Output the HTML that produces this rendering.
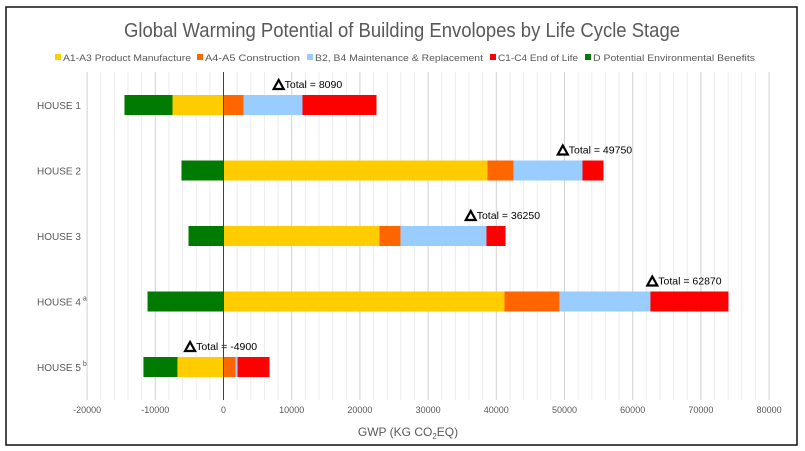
<!DOCTYPE html>
<html><head><meta charset="utf-8">
<style>
html,body{margin:0;padding:0;background:#fff;}
svg{display:block;font-family:"Liberation Sans",sans-serif;}
</style></head>
<body>
<svg id="chart" width="805" height="451" viewBox="0 0 805 451">
<rect x="6" y="7" width="791" height="438" fill="#fff" stroke="#111" stroke-width="1.5"/>
<text x="402" y="37" text-anchor="middle" font-size="20" fill="#595959" textLength="556" lengthAdjust="spacingAndGlyphs">Global Warming Potential of Building Envolopes by Life Cycle Stage</text>
<g id="grid"></g>
<g id="bars"></g>
<g id="ticks"></g>
<g id="legend"></g>
<text x="408" y="436" text-anchor="middle" font-size="12" fill="#595959">GWP (KG CO<tspan font-size="8" dy="3">2</tspan><tspan dy="-3">EQ)</tspan></text>
</svg>
<script>
const categories = ["HOUSE 1","HOUSE 2","HOUSE 3","HOUSE 4","HOUSE 5"];
const catSup = ["","","","a","b"];
const seriesNames = ["A1-A3 Product Manufacture","A4-A5 Construction","B2, B4 Maintenance & Replacement","C1-C4 End of Life","D Potential Environmental Benefits"];
const seriesColors = ["#ffcc00","#ff6600","#99ccff","#ff0000","#007a00"];
const a1a3 = [-7480, 38710, 22870, 41200, -6750];
const a4a5 = [2930, 3810, 3080, 8060, 1760];
const b2b4 = [8650, 10120, 12610, 13340, 300];
const c1c4 = [10850, 3080, 2790, 11440, 4690];
const dBen = [-7040, -6160, -5130, -11140, -4990];
const totals = [8090, 49750, 36250, 62870, -4900];
const tickValues = [-20000,-10000,0,10000,20000,30000,40000,50000,60000,70000,80000];

const NS="http://www.w3.org/2000/svg";
const X0=223.5, PX=0.00682, TOP=72, BOT=400;
const xs=v=>X0+v*PX;
const ys=i=>105+i*65.5;
function mk(tag,attrs,parent){const e=document.createElementNS(NS,tag);for(const k in attrs)e.setAttribute(k,attrs[k]);parent.appendChild(e);return e;}
const grid=document.getElementById('grid'), bars=document.getElementById('bars'), ticks=document.getElementById('ticks'), legend=document.getElementById('legend');

for(let v=-20000;v<=80000;v+=2000){
  const l=mk('line',{x1:xs(v),x2:xs(v),y1:TOP,y2:BOT,stroke:(v%10000===0)?'#d0d0d0':'#ececec','stroke-width':1},grid);
  
  
}
tickValues.forEach(v=>{
  const t=mk('text',{x:xs(v),y:413,'text-anchor':'middle','font-size':9,fill:'#595959'},ticks);
  t.textContent=v;
  
  
});

const series=[a1a3,a4a5,b2b4,c1c4,dBen];
categories.forEach((c,i)=>{
  const y=ys(i);
  let pos=0, neg=0;
  series.forEach((arr,s)=>{
    const v=arr[i];
    let x1,x2;
    if(v>=0){x1=xs(pos);pos+=v;x2=xs(pos);} else {x2=xs(neg);neg+=v;x1=xs(neg);}
    const r=mk('rect',{x:x1,y:y-10,width:Math.max(0,x2-x1),height:20,fill:seriesColors[s]},bars);
    
    
  });
  const lab=mk('text',{x:37,y:y+4,'font-size':10,fill:'#595959'},bars);
  lab.textContent=c;
  if(catSup[i]){const sp=mk('tspan',{'font-size':7,dy:-5,dx:2},lab);sp.textContent=catSup[i];}
  
  
  const tx=xs(totals[i]), ty=y-20;
  const tri=mk('polygon',{points:`${tx-5},${ty+4} ${tx+5},${ty+4} ${tx},${ty-5}`,fill:'#fff',stroke:'#000','stroke-width':2.2},bars);
  
  
  const tt=mk('text',{x:tx+6,y:ty+3,'font-size':10.5,fill:'#000'},bars);
  tt.textContent='Total = '+totals[i];
  
  
});
const zl=mk('line',{x1:X0,x2:X0,y1:TOP,y2:BOT,stroke:'#404040','stroke-width':1},bars);



const lx=[55,197,307,490,585];
const lw=[128,95,168,80,162];
seriesNames.forEach((n,s)=>{
  const g=mk('g',{},legend);
  
  
  mk('rect',{x:lx[s],y:54,width:6,height:6,fill:seriesColors[s]},g);
  const t=mk('text',{x:lx[s]+8,y:61,'font-size':9.5,fill:'#595959',textLength:lw[s],lengthAdjust:'spacingAndGlyphs'},g);
  t.textContent=n;
});
</script>
</body></html>
